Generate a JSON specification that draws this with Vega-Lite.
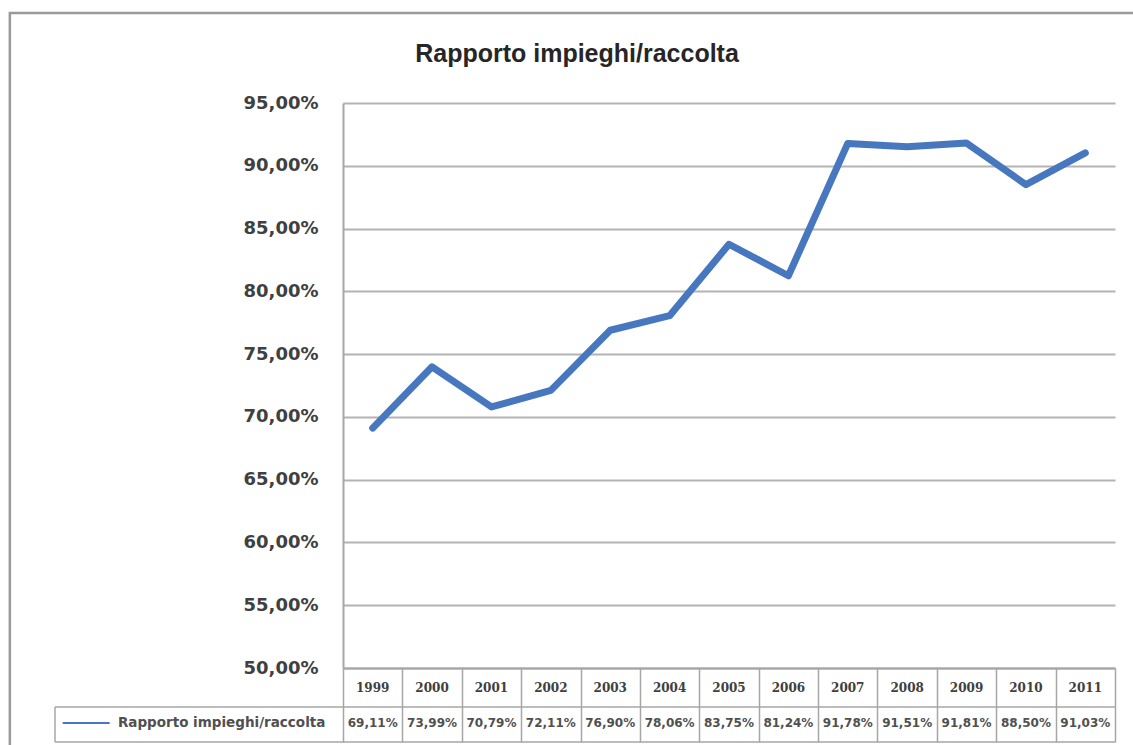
{
  "$schema": "https://vega.github.io/schema/vega-lite/v6.json",
  "width": 772,
  "height": 565,
  "autosize": {"type": "none"},
  "padding": {"left": 343, "top": 103, "right": 18, "bottom": 77},
  "background": "white",
  "config": {
    "locale": {"number": {"decimal": ",", "thousands": ".", "grouping": [3], "currency": ["€", ""]}},
    "view": {"stroke": null}
  },
  "title": {
    "text": "Rapporto impieghi/raccolta",
    "font": "Liberation Sans",
    "fontSize": 25,
    "fontWeight": "bold",
    "color": "#262626",
    "anchor": "middle",
    "frame": "group",
    "dx": -152,
    "offset": -55
  },
  "data": {
    "values": [
      {"year": 1999, "value": 0.6911},
      {"year": 2000, "value": 0.7399},
      {"year": 2001, "value": 0.7079},
      {"year": 2002, "value": 0.7211},
      {"year": 2003, "value": 0.7690},
      {"year": 2004, "value": 0.7806},
      {"year": 2005, "value": 0.8375},
      {"year": 2006, "value": 0.8124},
      {"year": 2007, "value": 0.9178},
      {"year": 2008, "value": 0.9151},
      {"year": 2009, "value": 0.9181},
      {"year": 2010, "value": 0.8850},
      {"year": 2011, "value": 0.9103}
    ]
  },
  "layer": [
    {
      "data": {"values": [{}]},
      "mark": {"type": "rect", "fill": null, "fillOpacity": 0, "stroke": "#9a9a9a", "strokeWidth": 2.5},
      "encoding": {
        "x": {"datum": 1992.89},
        "x2": {"datum": 2012.5},
        "y": {"datum": 1.0217},
        "y2": {"datum": 0.40}
      }
    },
    {
      "mark": {"type": "line", "color": "#4677BF", "strokeWidth": 7, "strokeCap": "round", "strokeJoin": "round"},
      "encoding": {
        "x": {
          "field": "year",
          "type": "quantitative",
          "scale": {"domain": [1998.5, 2011.5], "nice": false, "zero": false},
          "axis": {
            "values": [1998.5, 1999.5, 2000.5, 2001.5, 2002.5, 2003.5, 2004.5, 2005.5, 2006.5, 2007.5, 2008.5, 2009.5, 2010.5, 2011.5],
            "labels": false,
            "title": null,
            "grid": false,
            "domain": true,
            "domainColor": "#a6a6a6",
            "domainWidth": 2,
            "ticks": true,
            "tickSize": 74,
            "tickColor": "#a6a6a6",
            "tickWidth": 1.5
          }
        },
        "y": {
          "field": "value",
          "type": "quantitative",
          "scale": {"domain": [0.5, 0.95], "nice": false, "zero": false},
          "axis": {
            "values": [0.5, 0.55, 0.6, 0.65, 0.7, 0.75, 0.8, 0.85, 0.9, 0.95],
            "format": ".2%",
            "title": null,
            "grid": true,
            "gridColor": "#b3b3b3",
            "gridWidth": 2,
            "domain": true,
            "domainColor": "#a6a6a6",
            "domainWidth": 2,
            "ticks": false,
            "labelPadding": 25,
            "labelFont": "DejaVu Sans",
            "labelFontSize": 18,
            "labelFontWeight": "bold",
            "labelColor": "#404040"
          }
        }
      }
    },
    {
      "mark": {"type": "text", "font": "DejaVu Serif", "fontSize": 12, "fontWeight": "bold", "color": "#404040", "align": "center", "baseline": "middle"},
      "encoding": {
        "x": {"field": "year", "type": "quantitative"},
        "y": {"datum": 0.4841},
        "text": {"field": "year", "type": "nominal"}
      }
    },
    {
      "mark": {"type": "text", "font": "DejaVu Sans", "fontSize": 12, "fontWeight": "bold", "color": "#505050", "align": "center", "baseline": "middle"},
      "encoding": {
        "x": {"field": "year", "type": "quantitative"},
        "y": {"datum": 0.4562},
        "text": {"field": "value", "type": "quantitative", "format": ".2%"}
      }
    },
    {
      "data": {"values": [{}]},
      "mark": {"type": "rule", "color": "#a6a6a6", "strokeWidth": 1.5},
      "encoding": {
        "x": {"datum": 1993.65},
        "x2": {"datum": 2011.5},
        "y": {"datum": 0.4689}
      }
    },
    {
      "data": {"values": [{}]},
      "mark": {"type": "rule", "color": "#a6a6a6", "strokeWidth": 1.5},
      "encoding": {
        "x": {"datum": 1993.65},
        "x2": {"datum": 2011.5},
        "y": {"datum": 0.4411}
      }
    },
    {
      "data": {"values": [{}]},
      "mark": {"type": "rule", "color": "#a6a6a6", "strokeWidth": 1.5},
      "encoding": {
        "x": {"datum": 1993.65},
        "y": {"datum": 0.4689},
        "y2": {"datum": 0.4411}
      }
    },
    {
      "data": {"values": [{}]},
      "mark": {"type": "rule", "color": "#4677BF", "strokeWidth": 2},
      "encoding": {
        "x": {"datum": 1993.78},
        "x2": {"datum": 1994.57},
        "y": {"datum": 0.4562}
      }
    },
    {
      "data": {"values": [{}]},
      "mark": {"type": "text", "font": "DejaVu Sans", "fontSize": 13.5, "fontWeight": "bold", "color": "#505050", "align": "left", "baseline": "middle", "text": "Rapporto impieghi/raccolta"},
      "encoding": {
        "x": {"datum": 1994.71},
        "y": {"datum": 0.4562}
      }
    }
  ]
}
